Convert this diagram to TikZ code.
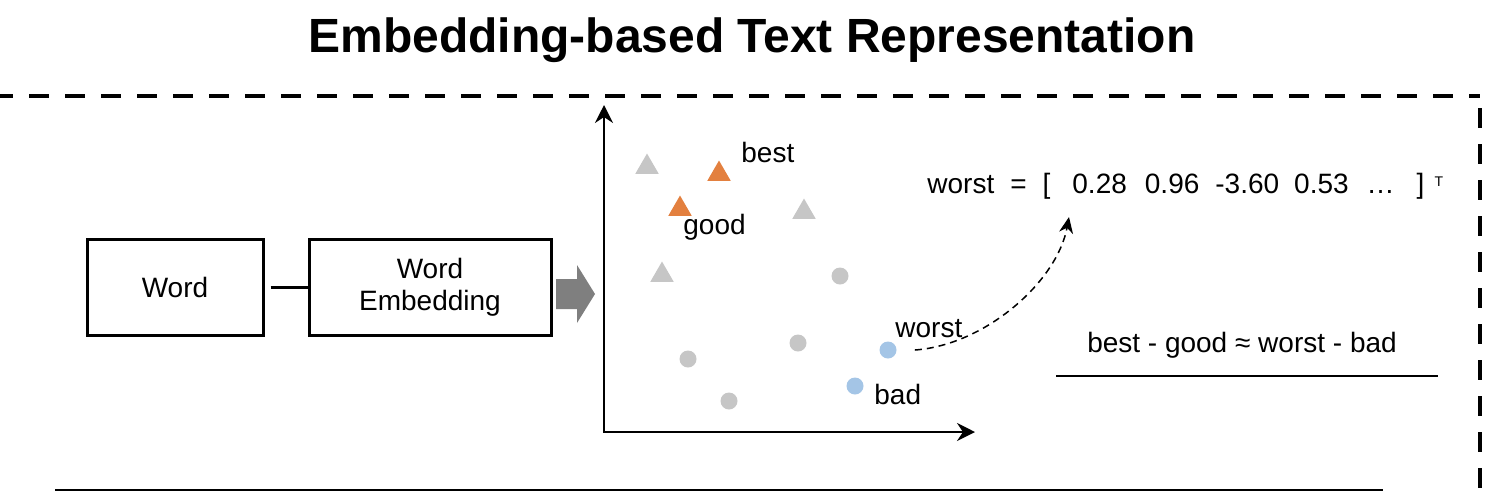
\documentclass[tikz,border=0pt]{standalone}
\usepackage{fontspec}
\setmainfont{Liberation Sans}
\usetikzlibrary{positioning, shapes.geometric, arrows.meta}

\definecolor{ptgray}{HTML}{C6C6C6}
\definecolor{ptorange}{HTML}{E3803F}
\definecolor{ptblue}{HTML}{A4C5E6}
\definecolor{flowgray}{HTML}{7F7F7F}

\begin{document}
\begin{tikzpicture}[
      x=0.5pt, y=-0.5pt,
      font=\fontsize{14}{16}\selectfont,
      block/.style={rectangle, draw, line width=1.5pt, minimum height=48pt,
      align=center},
      line/.style={draw, line width=1.5pt},
      axis/.style={draw, line width=1pt,
      {Stealth[length=9pt, width=9pt, inset=3pt]}-{Stealth[length=9pt, width=9pt, inset=3pt]}},
      frame/.style={draw, line width=2pt, dash pattern=on 10pt off 8pt},
      tri/.style={regular polygon, regular polygon sides=3, inner sep=0pt,
      minimum size=13.5pt},
      dot/.style={circle, inner sep=0pt, minimum size=8.5pt},
      word/.style={inner sep=0pt, anchor=base west},
      curve/.style={draw, line width=0.75pt, dash pattern=on 3.5pt off 2.5pt,
      -{Stealth[length=8pt, width=7pt, inset=2.5pt]}}
    ]
    \useasboundingbox (0,0) rectangle (1500,494);

    \node [font=\fontsize{24}{28}\selectfont\bfseries, inner sep=0pt,
    anchor=base] (title) at (752,52) {Embedding-based Text Representation};
    \path [frame, dash phase=3.5pt] (0,96) -- (1480,96);
    \path [frame, dash phase=12pt] (1480,96) -- (1480,494);
    \path [draw, line width=1pt] (55,490) -- (1383,490);

    \node [block, minimum width=88pt] (word) at (175,287) {Word};
    \node [block, minimum width=121pt, right=21.5pt of word] (emb)
    {Word\\Embedding};
    \path [line, shorten <=3pt] (word) -- (emb);
    \fill [flowgray] (556,279) -- (577,279) -- (577,265) -- (595,294) --
    (577,323) -- (577,309) -- (556,309) -- cycle;

    \coordinate (ytop) at (604,105);
    \coordinate (origin) at (604,432);
    \coordinate (xend) at (975,432);
    \path [axis] (ytop) -- (origin) -- (xend);

    \node [tri, fill=ptgray] (t1) at (647,167) {};
    \node [tri, fill=ptgray] (t2) at (804,212) {};
    \node [tri, fill=ptgray] (t3) at (662,275) {};
    \node [tri, fill=ptorange] (tbest) at (719,174) {};
    \node [tri, fill=ptorange] (tgood) at (680,209) {};
    \node [dot, fill=ptgray] (c1) at (840,276) {};
    \node [dot, fill=ptgray] (c2) at (798,343) {};
    \node [dot, fill=ptgray] (c3) at (688,359) {};
    \node [dot, fill=ptgray] (c4) at (729,401) {};
    \node [dot, fill=ptblue] (cworst) at (888,350) {};
    \node [dot, fill=ptblue] (cbad) at (855,386) {};

    \node [word] (lbest) at (741,162) {best};
    \node [word] (lgood) at (683,234) {good};
    \node [word] (lworst) at (895,337) {worst};
    \node [word] (lbad) at (874,404) {bad};

    \node [word] (vec) at (927,193) {worst\hspace{8pt}=\hspace{8pt}[\hspace{11pt}0.28\hspace{9pt}0.96\hspace{8pt}-3.60\hspace{7.5pt}0.53\hspace{9pt}\dots\hspace{11pt}]\hspace{5pt}\raisebox{3.5pt}{\fontsize{7}{8}\selectfont T}};
    \coordinate (vtip) at (1069,217);
    \path [curve] ([xshift=9pt]cworst.east) .. controls +(70,-5) and
    +(-12,65) .. (vtip);

    \node [inner sep=0pt] (rel) at (1242,345) {best - good ≈ worst - bad};
    \path [draw, line width=0.8pt] (1056,376) -- (1438,376);
  \end{tikzpicture}
\end{document}
